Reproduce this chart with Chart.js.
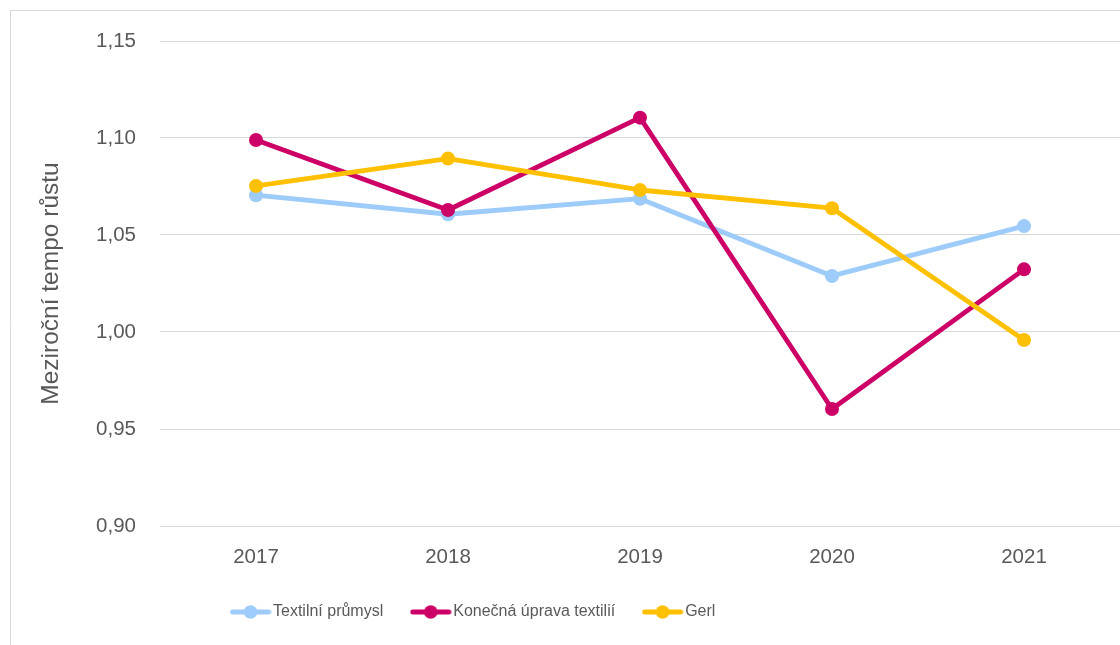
<!DOCTYPE html>
<html>
<head>
<meta charset="utf-8">
<script src="https://cdn.jsdelivr.net/npm/chart.js@4/dist/chart.umd.min.js"></script>
<style>
  html, body { margin: 0; padding: 0; background: #ffffff; }
  #wrap { width: 1120px; height: 645px; position: relative; }
</style>
</head>
<body>
<div id="wrap"><canvas id="c" width="1120" height="645"></canvas></div>
<script>
// ---- data ----
const categories = ['2017', '2018', '2019', '2020', '2021'];
const seriesNames = ['Textilní průmysl', 'Konečná úprava textilií', 'Gerl'];
const textilniPrumysl = [1.0705, 1.0607, 1.0687, 1.0289, 1.0546];
const konecnaUprava = [1.0990, 1.0629, 1.1105, 0.9603, 1.0323];
const gerl = [1.0753, 1.0894, 1.0732, 1.0638, 0.9959];
const yTickValues = [0.90, 0.95, 1.00, 1.05, 1.10, 1.15];
const yAxisTitle = 'Meziroční tempo růstu';

// ---- styles ----
const colors = ['#9DCBFA', '#CC0066', '#FFC000'];
const textColor = '#595959';
const gridColor = '#D9D9D9';
const FONT = "'Liberation Sans', Arial, sans-serif";

function legendMarker(color) {
  const cv = document.createElement('canvas');
  cv.width = 42; cv.height = 16;
  const g = cv.getContext('2d');
  g.strokeStyle = color; g.lineWidth = 5; g.lineCap = 'round';
  g.beginPath(); g.moveTo(3, 8); g.lineTo(39, 8); g.stroke();
  g.fillStyle = color;
  g.beginPath(); g.arc(21, 8, 6.8, 0, Math.PI * 2); g.fill();
  return cv;
}

const frame = {
  id: 'frame',
  beforeDraw(chart) {
    const ctx = chart.ctx;
    ctx.save();
    ctx.fillStyle = '#ffffff';
    ctx.fillRect(0, 0, chart.width, chart.height);
    ctx.strokeStyle = gridColor; ctx.lineWidth = 1;
    ctx.beginPath();
    ctx.moveTo(10.5, chart.height); ctx.lineTo(10.5, 10.5); ctx.lineTo(chart.width, 10.5);
    ctx.stroke();
    ctx.restore();
  }
};

const LEG_PAD = 33;
const legendPlace = {
  id: 'legendPlace',
  afterLayout(chart) {
    const lg = chart.legend;
    if (!lg) return;
    const h = lg.bottom - lg.top;
    lg.top = 571; lg.bottom = 571 + h;
    lg.left = 236 - LEG_PAD;
  }
};

function makeDataset(i, values, order) {
  return {
    label: seriesNames[i],
    data: values,
    borderColor: colors[i],
    backgroundColor: colors[i],
    pointBackgroundColor: colors[i],
    pointBorderColor: colors[i],
    borderWidth: 4.8,
    pointRadius: 7,
    pointHoverRadius: 7,
    pointBorderWidth: 0,
    tension: 0,
    borderJoinStyle: 'round',
    borderCapStyle: 'round',
    clip: false,
    order: order
  };
}

const markers = colors.map(legendMarker);

new Chart(document.getElementById('c'), {
  type: 'line',
  data: {
    labels: categories,
    datasets: [
      makeDataset(0, textilniPrumysl, 3),
      makeDataset(1, konecnaUprava, 2),
      makeDataset(2, gerl, 1)
    ]
  },
  options: {
    responsive: false,
    animation: false,
    devicePixelRatio: 1,
    layout: { autoPadding: false, padding: { left: 37, top: 41, right: 0, bottom: 0 } },
    plugins: {
      tooltip: { enabled: false },
      legend: {
        position: 'bottom',
        align: 'start',
        labels: {
          usePointStyle: true,
          pointStyleWidth: 29,
          padding: LEG_PAD,
          color: textColor,
          font: { family: FONT, size: 16 },
          generateLabels(chart) {
            const items = Chart.defaults.plugins.legend.labels.generateLabels(chart);
            items.forEach(it => { it.pointStyle = markers[it.datasetIndex]; });
            return items;
          },
          sort: (a, b) => a.datasetIndex - b.datasetIndex
        }
      }
    },
    scales: {
      x: {
        offset: true,
        grid: { display: false, drawTicks: false },
        border: { display: true, color: gridColor, width: 1 },
        ticks: { color: textColor, font: { family: FONT, size: 20.5 }, padding: 19, maxRotation: 0 },
        afterFit(scale) { scale.height = 60; scale.paddingLeft = 0; scale.paddingRight = 0; }
      },
      y: {
        min: 0.9,
        max: 1.15,
        grid: { color: gridColor, lineWidth: 1, drawTicks: false },
        border: { display: false },
        ticks: {
          color: textColor,
          font: { family: FONT, size: 20.5 },
          padding: 24,
          callback: v => Number(v).toFixed(2).replace('.', ',')
        },
        afterBuildTicks(scale) { scale.ticks = yTickValues.map(v => ({ value: v })); },
        title: {
          display: true,
          text: yAxisTitle,
          color: textColor,
          font: { family: FONT, size: 24.5 },
          padding: 0
        },
        afterFit(scale) { scale.width = 160 - 37; }
      }
    }
  },
  plugins: [frame, legendPlace]
});
</script>
</body>
</html>
